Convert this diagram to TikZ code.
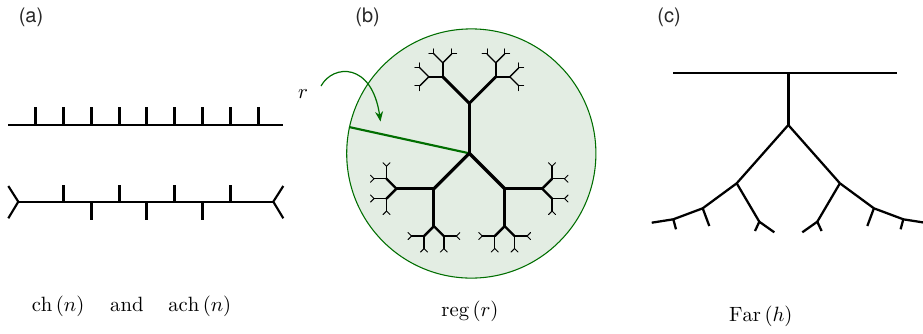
\documentclass[tikz,border=0pt]{standalone}
\usepackage{fontspec}
\newfontfamily\hv{TeX Gyre Heros}
\usetikzlibrary{arrows.meta}
\definecolor{tgreen}{RGB}{0,110,0}
\definecolor{tfill}{RGB}{227,237,227}
\definecolor{lblgray}{RGB}{40,40,40}

% recursive Cayley-tree branch: x, y (px, y down), visual angle, level
\newcommand\tbranch[4]{%
  \begingroup
  \edef\bsx{#1}\edef\bsy{#2}\edef\bang{#3}%
  \ifcase#4\or
    \def\blen{50}\def\bwid{2.4pt}\or
    \def\blen{37.5}\def\bwid{2.2pt}\or
    \def\blen{14}\def\bwid{1.8pt}\or
    \def\blen{12.5}\def\bwid{1.0pt}\or
    \def\blen{5}\def\bwid{0.7pt}\fi
  \pgfmathsetmacro\bnx{\bsx+\blen*cos(\bang)}%
  \pgfmathsetmacro\bny{\bsy-\blen*sin(\bang)}%
  \draw[line width=\bwid, line cap=round] (\bsx,\bsy) -- (\bnx,\bny);
  \ifnum#4<5
    \pgfmathsetmacro\angA{\bang+45}%
    \pgfmathsetmacro\angB{\bang-45}%
    \pgfmathtruncatemacro\bnl{#4+1}%
    \tbranch{\bnx}{\bny}{\angA}{\bnl}%
    \tbranch{\bnx}{\bny}{\angB}{\bnl}%
  \fi
  \endgroup}

\tikzset{
  panellbl/.style={anchor=base, scale=1.5, text=lblgray, font=\hv},
  mathlbl/.style={anchor=base, scale=1.55},
  axisline/.style={line width=1.6pt},
  tickline/.style={line width=2.1pt},
  farline/.style={line width=1.7pt, line join=round},
}

\begin{document}
\begin{tikzpicture}[x=0.75pt,y=-0.75pt]
\useasboundingbox (0,0) rectangle (923,333);

% ---------- panel labels ----------
\node[panellbl] (la) at (31,22.5) {(a)};
\node[panellbl] (lb) at (367.6,22) {(b)};
\node[panellbl] (lc) at (669,22.5) {(c)};

% ---------- panel (a) ----------
\draw[axisline] (8.3,125) -- (283.3,125);
\foreach \x in {35.5,63.5,91.5,119.5,146.5,174.5,202.5,230.5,258.5}
  \draw[tickline] (\x,125) -- ++(0,-18);

\draw[axisline] (18.3,201.7) -- (273.3,201.7);
\draw[axisline, line join=miter] (8.3,186) -- (18.3,201.7) -- (8.3,218.3);
\draw[axisline, line join=miter] (283.3,186) -- (273.3,201.7) -- (283.3,218.3);
\foreach \x in {63.5,119.5,174.5,230.5}
  \draw[tickline] (\x,201.7) -- ++(0,-17);
\foreach \x in {91.5,146.5,202.5}
  \draw[tickline] (\x,201.7) -- ++(0,18.5);

\node[mathlbl] (ta) at (131.5,311.7)
  {$\mathrm{ch}\,(n)\hspace{1.25em}\mathrm{and}\hspace{1.2em}\mathrm{ach}\,(n)$};

% ---------- panel (b) ----------
\draw[tgreen, line width=0.8pt, fill=tfill] (471.3,153.5) circle[radius=93.45pt];
\coordinate (rim) at (349,127);
\coordinate (ctr) at (469.3,153.3);
\draw[tgreen, line width=1.6pt] (rim) -- (ctr);

\tbranch{469.3}{153.3}{90}{1}
\tbranch{469.3}{153.3}{225}{1}
\tbranch{469.3}{153.3}{315}{1}

\node[mathlbl] (rl) at (303,98.3) {$r$};
\coordinate (arS) at (321,86);
\coordinate (arE) at (380.5,121.5);
\draw[tgreen, line width=0.9pt, -{Stealth[length=7.5pt,width=6pt]}]
  (arS) .. controls (333,64) and (372,62) .. (arE);

\node[mathlbl] (tb) at (470,316.7) {$\mathrm{reg}\,(r)$};

% ---------- panel (c) ----------
\draw[line width=1.6pt] (673.3,73.3) -- (896.7,73.3);
\draw[line width=2.3pt] (788.3,73.3) -- (788.3,125);
% left side
\draw[farline] (788.3,125) -- (736.7,183.3) -- (702.7,208.3) -- (673.3,219.3) -- (651.7,222.7);
\draw[farline] (736.7,183.3) -- (759.3,221.7);
\draw[farline] (755,231) -- (759.3,221.7) -- (774.3,232.3);
\draw[farline] (702.7,208.3) -- (709.3,226);
\draw[farline] (673.3,219.3) -- (676,229.3);
% right side (mirror about x = 788.3)
\draw[farline] (788.3,125) -- (839.9,183.3) -- (873.9,208.3) -- (903.3,219.3) -- (924.9,222.7);
\draw[farline] (839.9,183.3) -- (817.3,221.7);
\draw[farline] (821.6,231) -- (817.3,221.7) -- (802.3,232.3);
\draw[farline] (873.9,208.3) -- (867.3,226);
\draw[farline] (903.3,219.3) -- (900.6,229.3);

\node[mathlbl] (tc) at (760.8,321.7) {$\mathrm{Far}\,(h)$};
\end{tikzpicture}
\end{document}
